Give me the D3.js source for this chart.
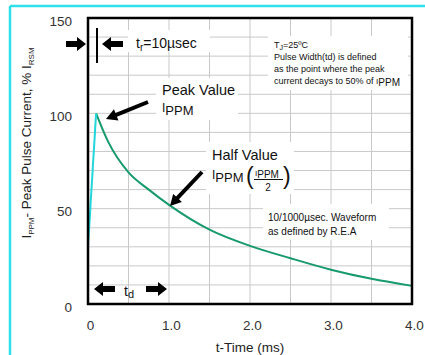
<!DOCTYPE html>
<html>
<head>
<meta charset="utf-8">
<script src="https://cdn.jsdelivr.net/npm/d3@7"></script>
<style>
  body { margin: 0; background: #fff; }
  text { font-family: "Liberation Sans", Arial, sans-serif; }
</style>
</head>
<body>
<script>
// rise (10 usec front, drawn exaggerated) and the exponential tail
let riseT = [0, 0.1];
let riseI = [30, 100];
let decayT = [0.1, 0.25, 0.5, 0.75, 1.0, 1.5, 2.0, 2.5, 3.0, 3.5, 4.0];
let decayI = [100, 85, 69, 60, 52, 39, 30.5, 24, 18, 13.2, 9.5];

let xTicks = [0, 1, 2, 3, 4];
let xTickLabels = ["0", "1.0", "2.0", "3.0", "4.0"];
let yTicks = [0, 50, 100, 150];
let xGrid = [0.5, 1, 1.5, 2, 2.5, 3, 3.5];
let yGrid = [10, 20, 30, 40, 50, 60, 70, 80, 90, 100, 110, 120, 130, 140];

let w = 425, h = 355;
let pLeft = 88, pRight = 412, pTop = 18, pBottom = 304;

let svg = d3.select("body").append("svg")
  .attr("width", w).attr("height", h);

// cyan frame edges (left + top only)
svg.append("line").attr("x1", 10).attr("x2", 10).attr("y1", 6).attr("y2", h)
  .attr("stroke", "#2de0ea").attr("stroke-width", 2.5);
svg.append("line").attr("x1", 10).attr("x2", w).attr("y1", 6).attr("y2", 6)
  .attr("stroke", "#2de0ea").attr("stroke-width", 2.5);

let x = d3.scaleLinear().domain([0, 4]).range([pLeft, pRight]);
let y = d3.scaleLinear().domain([0, 150]).range([pBottom, pTop]);

// grid
svg.append("g").selectAll("line").data(xGrid).enter().append("line")
  .attr("x1", d => x(d)).attr("x2", d => x(d))
  .attr("y1", pTop).attr("y2", pBottom)
  .attr("stroke", "#c9c9c9").attr("stroke-width", 1);
svg.append("g").selectAll("line").data(yGrid).enter().append("line")
  .attr("x1", pLeft).attr("x2", pRight)
  .attr("y1", d => y(d)).attr("y2", d => y(d))
  .attr("stroke", "#c9c9c9").attr("stroke-width", 1);

// white patches behind the notes
let patches = [
  [128, 30, 82, 22],
  [156, 78, 82, 42],
  [206, 142, 88, 52],
  [268, 36, 140, 54],
  [263, 204, 126, 36]
];
svg.append("g").selectAll("rect").data(patches).enter().append("rect")
  .attr("x", d => d[0]).attr("y", d => d[1])
  .attr("width", d => d[2]).attr("height", d => d[3])
  .attr("fill", "#fff");

// waveform
let line = d3.line().x(d => x(d[0])).y(d => y(d[1]));
svg.append("path")
  .datum(decayT.map((t, i) => [t, decayI[i]]))
  .attr("d", line.curve(d3.curveMonotoneX))
  .attr("fill", "none").attr("stroke", "#179a6c").attr("stroke-width", 2);
svg.append("path")
  .datum(riseT.map((t, i) => [t, riseI[i]]))
  .attr("d", d3.line().x(d => x(d[0])).y(d => y(d[1])))
  .attr("fill", "none").attr("stroke", "#22d6dc").attr("stroke-width", 2);

// plot frame
svg.append("rect").attr("x", pLeft).attr("y", pTop)
  .attr("width", pRight - pLeft).attr("height", pBottom - pTop)
  .attr("fill", "none").attr("stroke", "#000").attr("stroke-width", 2.5);

// axes
let xAxis = d3.axisBottom(x).tickValues(xTicks).tickSize(0).tickPadding(16)
  .tickFormat((d, i) => xTickLabels[i]);
let gx = svg.append("g").attr("transform", "translate(2," + pBottom + ")").call(xAxis);
gx.select(".domain").remove();
gx.selectAll("text").attr("font-size", 13.5).attr("fill", "#333")
  .attr("font-family", "Liberation Sans, Arial, sans-serif");

let yAxis = d3.axisLeft(y).tickValues(yTicks).tickSize(0).tickPadding(16);
let gy = svg.append("g").attr("transform", "translate(" + pLeft + ",3)").call(yAxis);
gy.select(".domain").remove();
gy.selectAll("text").attr("font-size", 13.5).attr("fill", "#333")
  .attr("font-family", "Liberation Sans, Arial, sans-serif");

svg.append("text").attr("x", 250).attr("y", 352).attr("text-anchor", "middle")
  .attr("font-size", 13.5).attr("fill", "#222").text("t-Time (ms)");

let yt = svg.append("text").attr("transform", "translate(31,143) rotate(-90)")
  .attr("text-anchor", "middle").attr("font-size", 13.5).attr("fill", "#222");
yt.append("tspan").text("I");
yt.append("tspan").attr("font-size", 8).attr("dy", 3).text("PPM");
yt.append("tspan").attr("dy", -3).text("- Peak Pulse Current, % I");
yt.append("tspan").attr("font-size", 8).attr("dy", 3).text("RSM");

// arrows
function arrow(x1, y1, x2, y2, shaft, head, headLen) {
  let a = Math.atan2(y2 - y1, x2 - x1);
  let len = Math.hypot(x2 - x1, y2 - y1);
  let p = [
    [0, -shaft / 2], [len - headLen, -shaft / 2], [len - headLen, -head / 2],
    [len, 0], [len - headLen, head / 2], [len - headLen, shaft / 2], [0, shaft / 2]
  ];
  svg.append("path")
    .attr("d", "M" + p.map(q => q.join(",")).join("L") + "Z")
    .attr("transform", "translate(" + x1 + "," + y1 + ") rotate(" + a * 180 / Math.PI + ")")
    .attr("fill", "#000");
}
arrow(66, 44, 86, 44, 6, 14, 9);
arrow(123, 44, 102, 44, 6, 14, 9);
svg.append("line").attr("x1", 97).attr("x2", 97).attr("y1", 28).attr("y2", 63)
  .attr("stroke", "#000").attr("stroke-width", 2);
arrow(148, 102, 106, 119, 4, 12, 11);
arrow(202, 172, 170, 206, 4, 12, 11);
arrow(115, 289, 94, 289, 6, 14, 9);
arrow(146, 289, 167, 289, 6, 14, 9);

// notes
let tr = svg.append("text").attr("x", 136).attr("y", 48).attr("font-size", 14).attr("fill", "#111");
tr.append("tspan").text("t");
tr.append("tspan").attr("font-size", 10).attr("dy", 3).text("r");
tr.append("tspan").attr("dy", -3).text("=10µsec");

let td = svg.append("text").attr("x", 124).attr("y", 296).attr("font-size", 14).attr("fill", "#111");
td.append("tspan").text("t");
td.append("tspan").attr("font-size", 11).attr("dy", 2).text("d");

svg.append("text").attr("x", 162).attr("y", 95).attr("font-size", 14.5).attr("fill", "#111").text("Peak Value");
let pk = svg.append("text").attr("x", 162).attr("y", 112).attr("font-size", 13).attr("fill", "#111");
pk.append("tspan").attr("font-size", 12).text("I");
pk.append("tspan").attr("dy", 3).text("PPM");

svg.append("text").attr("x", 212).attr("y", 160).attr("font-size", 14.5).attr("fill", "#111").text("Half Value");
let hv = svg.append("text").attr("x", 212).attr("y", 179).attr("font-size", 13).attr("fill", "#111");
hv.append("tspan").attr("font-size", 12).text("I");
hv.append("tspan").attr("dy", 3).text("PPM");
svg.append("text").attr("x", 246).attr("y", 184).attr("font-size", 23).attr("fill", "#111")
  .attr("font-weight", 300).text("(");
svg.append("text").attr("x", 283).attr("y", 184).attr("font-size", 23).attr("fill", "#111")
  .attr("font-weight", 300).text(")");
let fr = svg.append("text").attr("x", 255).attr("y", 176).attr("font-size", 10).attr("fill", "#111");
fr.append("tspan").attr("font-size", 8).text("I");
fr.append("tspan").attr("dy", 2).text("PPM");
svg.append("line").attr("x1", 254).attr("x2", 283).attr("y1", 179.5).attr("y2", 179.5)
  .attr("stroke", "#111").attr("stroke-width", 1);
svg.append("text").attr("x", 268).attr("y", 191).attr("font-size", 10).attr("text-anchor", "middle")
  .attr("fill", "#111").text("2");

let note1 = svg.append("text").attr("font-size", 9).attr("fill", "#111");
let tj = note1.append("tspan").attr("x", 274).attr("y", 48);
tj.append("tspan").text("T");
tj.append("tspan").attr("font-size", 7).attr("dy", 2).text("J");
tj.append("tspan").attr("dy", -2).text("=25ºC");
note1.append("tspan").attr("x", 274).attr("y", 60).text("Pulse Width(td) is defined");
note1.append("tspan").attr("x", 274).attr("y", 72).text("as the point where the peak");
note1.append("tspan").attr("x", 274).attr("y", 84).text("current decays to 50% of ");
note1.append("tspan").attr("font-size", 8).text("I");
note1.append("tspan").attr("font-size", 10).attr("dy", 2).text("PPM");

let note2 = svg.append("text").attr("font-size", 10).attr("fill", "#111");
note2.append("tspan").attr("x", 268).attr("y", 221).text("10/1000µsec. Waveform");
note2.append("tspan").attr("x", 268).attr("y", 235).text("as defined by R.E.A");
</script>
</body>
</html>
